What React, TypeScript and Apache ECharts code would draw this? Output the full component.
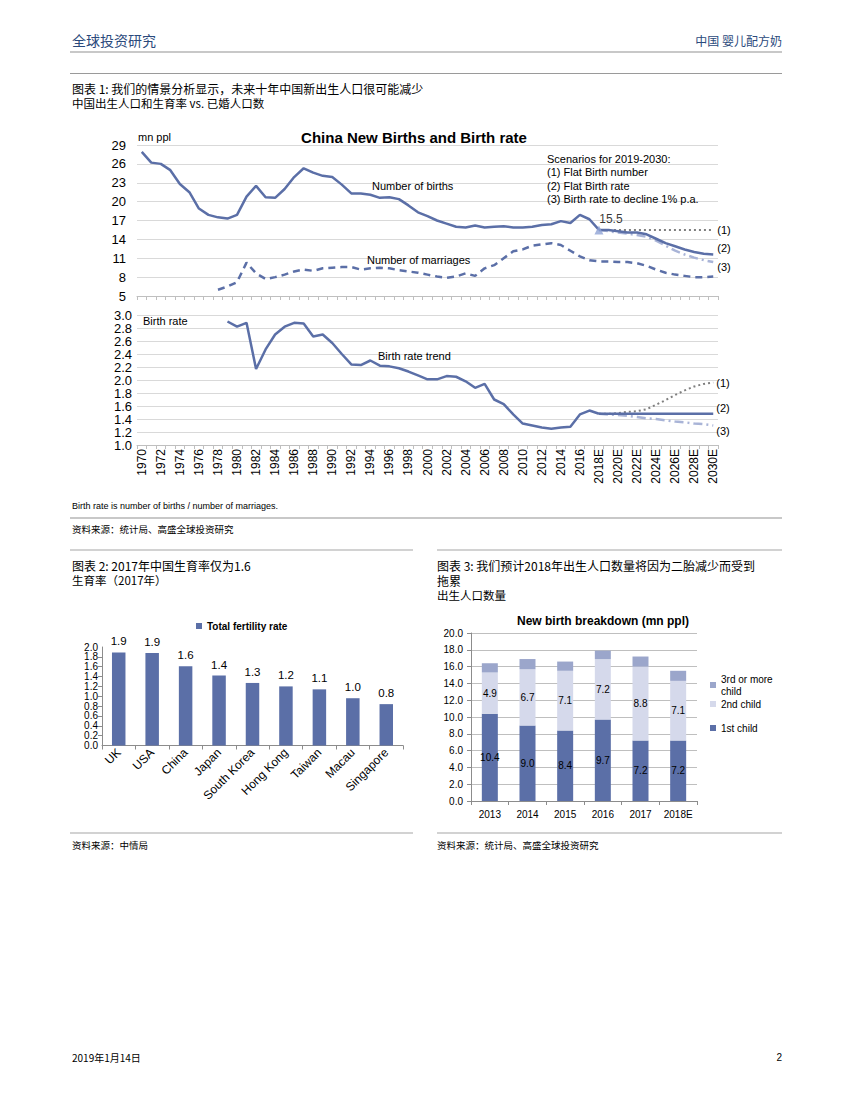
import { useEffect, useRef } from "react";
import * as echarts from "echarts";

// ---------- Chart 1 data ----------
const YEARS = [
  "1970", "1971", "1972", "1973", "1974", "1975", "1976", "1977", "1978", "1979",
  "1980", "1981", "1982", "1983", "1984", "1985", "1986", "1987", "1988", "1989",
  "1990", "1991", "1992", "1993", "1994", "1995", "1996", "1997", "1998", "1999",
  "2000", "2001", "2002", "2003", "2004", "2005", "2006", "2007", "2008", "2009",
  "2010", "2011", "2012", "2013", "2014", "2015", "2016", "2017", "2018E", "2019E",
  "2020E", "2021E", "2022E", "2023E", "2024E", "2025E", "2026E", "2027E", "2028E", "2029E",
  "2030E",
];

// Number of births (mn), 1970-2018
const BIRTHS_START = "1970";
const BIRTHS = [
  27.9, 26.2, 26.0, 25.0, 22.8, 21.5, 18.9, 17.9, 17.5, 17.3,
  17.9, 20.8, 22.5, 20.7, 20.6, 22.0, 23.9, 25.3, 24.6, 24.1,
  23.9, 22.7, 21.3, 21.3, 21.1, 20.6, 20.7, 20.4, 19.4, 18.3,
  17.7, 17.0, 16.5, 16.0, 15.9, 16.2, 15.9, 16.0, 16.1, 15.9,
  15.9, 16.0, 16.3, 16.4, 16.9, 16.6, 17.9, 17.2, 15.5,
];

// Number of marriages (mn), 1978-2030
const MARRIAGES_START = "1978";
const MARRIAGES = [
  6.0, 6.5,
  7.2, 10.3, 8.6, 7.7, 8.0, 8.4, 8.9, 9.2, 9.0, 9.4,
  9.5, 9.6, 9.6, 9.2, 9.4, 9.5, 9.4, 9.1, 8.9, 8.7,
  8.4, 8.1, 7.9, 8.1, 8.6, 8.2, 9.4, 9.9, 11.0, 12.1,
  12.4, 13.0, 13.2, 13.4, 13.1, 12.2, 11.3, 10.7, 10.5, 10.5,
  10.4, 10.4, 10.2, 9.8, 9.2, 8.7, 8.4, 8.2, 8.0, 8.0, 8.1,
];

// Scenarios, births 2018E-2030E
const SCEN_START = "2018E";
const BIRTHS_S1 = [15.5, 15.5, 15.5, 15.5, 15.5, 15.5, 15.5, 15.5, 15.5, 15.5, 15.5, 15.5, 15.5];
const BIRTHS_S2 = [15.5, 15.5, 15.3, 15.1, 15.1, 14.8, 14.1, 13.4, 12.9, 12.4, 12.0, 11.7, 11.6];
const BIRTHS_S3 = [15.5, 15.3, 15.1, 14.9, 14.7, 14.4, 13.8, 13.0, 12.2, 11.6, 11.1, 10.7, 10.4];

// Birth rate (births / marriages), 1979-2018
const RATE_START = "1979";
const RATE = [
  2.90,
  2.82, 2.88, 2.17, 2.47, 2.70, 2.82, 2.88, 2.87, 2.67, 2.70,
  2.57, 2.40, 2.24, 2.23, 2.30, 2.22, 2.21, 2.18, 2.13, 2.07,
  2.01, 2.01, 2.06, 2.05, 1.98, 1.88, 1.94, 1.70, 1.63, 1.47,
  1.33, 1.30, 1.27, 1.25, 1.27, 1.28, 1.47, 1.53, 1.48,
];
const RATE_S1 = [1.48, 1.48, 1.49, 1.51, 1.52, 1.55, 1.62, 1.69, 1.77, 1.84, 1.90, 1.94, 1.96];
const RATE_S2 = [1.48, 1.48, 1.48, 1.48, 1.48, 1.48, 1.48, 1.48, 1.48, 1.48, 1.48, 1.48, 1.48];
const RATE_S3 = [1.48, 1.47, 1.46, 1.45, 1.43, 1.41, 1.40, 1.38, 1.36, 1.35, 1.33, 1.32, 1.30];

// ---------- Chart 2 data ----------
const COUNTRIES = ["UK", "USA", "China", "Japan", "South Korea", "Hong Kong", "Taiwan", "Macau", "Singapore"];
const TFR = [1.89, 1.88, 1.61, 1.42, 1.27, 1.20, 1.14, 0.96, 0.84];
const TFR_MIN = 0;
const TFR_MAX = 2;
const TFR_STEP = 0.2;

// ---------- Chart 3 data ----------
const BREAK_YEARS = ["2013", "2014", "2015", "2016", "2017", "2018E"];
const FIRST_CHILD = [10.4, 9.0, 8.4, 9.7, 7.2, 7.2];
const SECOND_CHILD = [4.9, 6.7, 7.1, 7.2, 8.8, 7.1];
const THIRD_CHILD = [1.1, 1.2, 1.1, 1.0, 1.2, 1.2];

// ---------- styles ----------
const BLUE = "#5b6fa7";
const LIGHT = "#a9b4d7";
const GRAY_DOT = "#7f7f7f";
const EN = "'Liberation Sans', Arial, sans-serif";
const CN = "'Noto Sans CJK SC', 'Liberation Sans', sans-serif";
const HEAD = "#2b4a7c";

const pad = (start: string, arr: number[]) => {
  const s = YEARS.indexOf(start);
  return YEARS.map((_, i) => (i >= s && i - s < arr.length ? arr[i - s] : null));
};

const T = (x: number, y: number, text: string, size: number, o: any = {}) => ({
  type: "text",
  x,
  y,
  z: 10,
  style: {
    text,
    font: `${o.weight || "normal"} ${size}px ${o.family || CN}`,
    fill: o.fill || "#000",
    textAlign: o.align || "left",
    textVerticalAlign: "middle",
  },
});
// horizontal rule drawn as a thin filled rect
const R = (x1: number, y: number, x2: number, h: number, fill: string) => ({
  type: "rect",
  z: 10,
  shape: { x: x1, y: y - h / 2, width: x2 - x1, height: h },
  style: { fill },
});

const fmt1 = (v: number) => Number(v).toFixed(1);

export default function App() {
  const ref = useRef<HTMLDivElement>(null);
  useEffect(() => {
    const chart = echarts.init(ref.current!, null, { renderer: "svg" });
    const yearAxisBase = {
      type: "category",
      data: YEARS,
      boundaryGap: true,
      axisLine: { lineStyle: { color: "#bfbfbf" } },
      axisTick: { show: true, interval: 0, length: 4, lineStyle: { color: "#bfbfbf" } },
    };
    const smallLegend = (name: string, left: number, top: number, extra: any = {}) => ({
      data: [name],
      left,
      top,
      padding: 0,
      icon: "rect",
      itemWidth: 6,
      itemHeight: 6,
      textStyle: { fontSize: 10, color: "#000", fontFamily: EN, ...extra },
    });
    const tfrLabel = { fontSize: 10, lineHeight: 8, color: "#000", margin: 4, fontFamily: EN, formatter: fmt1 };
    const option: any = {
      animation: false,
      backgroundColor: "#fff",
      textStyle: { fontFamily: EN },
      grid: [
        { left: 137, top: 145, width: 581, height: 151 },
        { left: 137, top: 315, width: 581, height: 130 },
        { left: 102, top: 647, width: 301, height: 98.5 },
        { left: 471, top: 633, width: 226, height: 168 },
      ],
      xAxis: [
        { ...yearAxisBase, gridIndex: 0, axisLabel: { show: false } },
        {
          ...yearAxisBase,
          gridIndex: 1,
          axisLabel: { show: true, interval: 1, rotate: 90, fontSize: 12, color: "#000", margin: 4, fontFamily: EN },
        },
        {
          gridIndex: 2,
          type: "category",
          data: COUNTRIES,
          axisLine: { lineStyle: { color: "#8c8c8c" } },
          axisTick: { show: true, interval: 0, length: 4, lineStyle: { color: "#8c8c8c" } },
          axisLabel: { interval: 0, rotate: 45, fontSize: 12, color: "#000", margin: 5, fontFamily: EN },
        },
        {
          gridIndex: 3,
          type: "category",
          data: BREAK_YEARS,
          axisLine: { lineStyle: { color: "#8c8c8c" } },
          axisTick: { show: true, interval: 0, length: 4, lineStyle: { color: "#8c8c8c" } },
          axisLabel: { interval: 0, fontSize: 10, color: "#000", margin: 8, fontFamily: EN },
        },
      ],
      yAxis: [
        {
          gridIndex: 0,
          type: "value",
          min: 5,
          max: 29,
          interval: 3,
          axisLine: { show: false },
          axisTick: { show: false },
          splitLine: { lineStyle: { color: "#d9d9d9" } },
          axisLabel: { fontSize: 13, color: "#000", margin: 11, fontFamily: EN },
        },
        {
          gridIndex: 1,
          type: "value",
          min: 1,
          max: 3,
          interval: 0.2,
          axisLine: { show: false },
          axisTick: { show: false },
          splitLine: { lineStyle: { color: "#d9d9d9" } },
          axisLabel: { fontSize: 13, lineHeight: 13, color: "#000", margin: 5, fontFamily: EN, formatter: fmt1 },
        },
        // chart 2 main axis: inner labels 0.2 ... 1.8
        {
          gridIndex: 2,
          type: "value",
          min: TFR_MIN,
          max: TFR_MAX,
          interval: TFR_STEP,
          axisLine: { show: true, lineStyle: { color: "#8c8c8c" } },
          axisTick: { show: true, length: 4, lineStyle: { color: "#8c8c8c" } },
          splitLine: { show: false },
          axisLabel: { ...tfrLabel, showMinLabel: false, showMaxLabel: false },
        },
        {
          gridIndex: 3,
          type: "value",
          min: 0,
          max: 20,
          interval: 2,
          axisLine: { show: true, lineStyle: { color: "#8c8c8c" } },
          axisTick: { show: true, length: 4, lineStyle: { color: "#8c8c8c" } },
          splitLine: { lineStyle: { color: "#bfbfbf" } },
          axisLabel: { fontSize: 10, color: "#000", margin: 8, fontFamily: EN, formatter: fmt1 },
        },
        // chart 2 companion axis: end labels 0.0 and 2.0 on the same scale
        {
          gridIndex: 2,
          type: "value",
          position: "left",
          min: TFR_MIN,
          max: TFR_MAX,
          interval: TFR_MAX - TFR_MIN,
          axisLine: { show: false },
          axisTick: { show: false },
          splitLine: { show: false },
          axisLabel: tfrLabel,
        },
      ],
      legend: [
        {
          data: ["Total fertility rate"],
          left: 196,
          top: 621,
          padding: 0,
          icon: "rect",
          itemWidth: 6,
          itemHeight: 6,
          textStyle: { fontSize: 10, fontWeight: "bold", color: "#000", fontFamily: EN },
        },
        smallLegend("3rd or more child", 710, 673, { width: 56, overflow: "break", lineHeight: 12 }),
        smallLegend("2nd child", 710, 699),
        smallLegend("1st child", 710, 723),
      ],
      series: [
        // ---- top panel: births & marriages ----
        {
          type: "line",
          name: "Number of marriages",
          xAxisIndex: 0,
          yAxisIndex: 0,
          data: pad(MARRIAGES_START, MARRIAGES),
          symbol: "none",
          lineStyle: { color: BLUE, width: 2.5, type: [7, 5] },
        },
        {
          type: "line",
          name: "(1) Flat Birth number",
          xAxisIndex: 0,
          yAxisIndex: 0,
          data: pad(SCEN_START, BIRTHS_S1),
          symbol: "none",
          lineStyle: { color: GRAY_DOT, width: 2, type: [2, 3] },
          endLabel: { show: true, formatter: "(1)", distance: 4, fontSize: 11, color: "#000", fontFamily: EN },
        },
        {
          type: "line",
          name: "(3) Birth rate to decline 1% p.a.",
          xAxisIndex: 0,
          yAxisIndex: 0,
          data: pad(SCEN_START, BIRTHS_S3),
          symbol: "none",
          lineStyle: { color: LIGHT, width: 2.5, type: [9, 4, 2, 4] },
          endLabel: { show: true, formatter: "(3)", distance: 4, offset: [0, 5], fontSize: 11, color: "#000", fontFamily: EN },
        },
        {
          type: "line",
          name: "(2) Flat Birth rate",
          xAxisIndex: 0,
          yAxisIndex: 0,
          data: pad(SCEN_START, BIRTHS_S2),
          symbol: "none",
          lineStyle: { color: BLUE, width: 2.5 },
          endLabel: { show: true, formatter: "(2)", distance: 4, offset: [0, -6], fontSize: 11, color: "#000", fontFamily: EN },
        },
        {
          type: "line",
          name: "Number of births",
          xAxisIndex: 0,
          yAxisIndex: 0,
          data: pad(BIRTHS_START, BIRTHS),
          symbol: "none",
          lineStyle: { color: BLUE, width: 2.5 },
        },
        {
          type: "scatter",
          name: "2018E births",
          xAxisIndex: 0,
          yAxisIndex: 0,
          data: [[SCEN_START, BIRTHS[BIRTHS.length - 1]]],
          symbol: "triangle",
          symbolSize: 9,
          itemStyle: { color: "#8fa2d4" },
          label: {
            show: true,
            position: "top",
            offset: [12, 5],
            fontSize: 12,
            color: "#000",
            fontFamily: EN,
            formatter: (p: any) => fmt1(p.value[1]),
          },
          z: 5,
        },
        // ---- bottom panel: birth rate ----
        {
          type: "line",
          name: "Rate (1)",
          xAxisIndex: 1,
          yAxisIndex: 1,
          data: pad(SCEN_START, RATE_S1),
          symbol: "none",
          lineStyle: { color: GRAY_DOT, width: 2, type: [2, 3] },
          endLabel: { show: true, formatter: "(1)", distance: 3, fontSize: 11, color: "#000", fontFamily: EN },
        },
        {
          type: "line",
          name: "Rate (3)",
          xAxisIndex: 1,
          yAxisIndex: 1,
          data: pad(SCEN_START, RATE_S3),
          symbol: "none",
          lineStyle: { color: LIGHT, width: 2.5, type: [9, 4, 2, 4] },
          endLabel: { show: true, formatter: "(3)", distance: 3, offset: [0, 5], fontSize: 11, color: "#000", fontFamily: EN },
        },
        {
          type: "line",
          name: "Rate (2)",
          xAxisIndex: 1,
          yAxisIndex: 1,
          data: pad(SCEN_START, RATE_S2),
          symbol: "none",
          lineStyle: { color: BLUE, width: 2.5 },
          endLabel: { show: true, formatter: "(2)", distance: 3, offset: [0, -6], fontSize: 11, color: "#000", fontFamily: EN },
        },
        {
          type: "line",
          name: "Birth rate",
          xAxisIndex: 1,
          yAxisIndex: 1,
          data: pad(RATE_START, RATE),
          symbol: "none",
          lineStyle: { color: BLUE, width: 2.5 },
        },
        // ---- chart 2 ----
        {
          type: "bar",
          name: "Total fertility rate",
          xAxisIndex: 2,
          yAxisIndex: 2,
          data: TFR,
          barWidth: 13.5,
          itemStyle: { color: BLUE },
          label: {
            show: true,
            position: "top",
            distance: 5,
            fontSize: 11.5,
            color: "#000",
            fontFamily: EN,
            formatter: (p: any) => fmt1(p.value),
          },
        },
        // ---- chart 3 ----
        {
          type: "bar",
          name: "1st child",
          xAxisIndex: 3,
          yAxisIndex: 3,
          stack: "births",
          data: FIRST_CHILD,
          barWidth: 16,
          itemStyle: { color: BLUE },
          label: { show: true, position: "inside", fontSize: 10, color: "#000", fontFamily: EN, formatter: (p: any) => fmt1(p.value) },
        },
        {
          type: "bar",
          name: "2nd child",
          xAxisIndex: 3,
          yAxisIndex: 3,
          stack: "births",
          data: SECOND_CHILD,
          barWidth: 16,
          itemStyle: { color: "#d5d9eb" },
          label: { show: true, position: "inside", fontSize: 10, color: "#000", fontFamily: EN, formatter: (p: any) => fmt1(p.value) },
        },
        {
          type: "bar",
          name: "3rd or more child",
          xAxisIndex: 3,
          yAxisIndex: 3,
          stack: "births",
          data: THIRD_CHILD,
          barWidth: 16,
          itemStyle: { color: "#9ba6cb" },
        },
      ],
      graphic: [
        T(72, 40, "全球投资研究", 14, { fill: HEAD }),
        T(782, 40, "中国 婴儿配方奶", 12, { fill: HEAD, align: "right" }),
        R(70, 52, 782, 2, "#c8c8c8"),
        R(70, 73.5, 782, 1, "#9a9a9a"),
        T(72, 88, "图表 1: 我们的情景分析显示，未来十年中国新出生人口很可能减少", 12),
        T(72, 103, "中国出生人口和生育率 vs. 已婚人口数", 11.5),
        T(138, 137, "mn ppl", 11, { family: EN }),
        T(414, 137, "China New Births and Birth rate", 15, { family: EN, weight: "bold", align: "center" }),
        T(547, 159, "Scenarios for 2019-2030:", 11, { family: EN }),
        T(547, 172.3, "(1) Flat Birth number", 11, { family: EN }),
        T(547, 185.5, "(2) Flat Birth rate", 11, { family: EN }),
        T(547, 198.7, "(3) Birth rate to decline 1% p.a.", 11, { family: EN }),
        T(372, 186, "Number of births", 11, { family: EN }),
        T(367, 260, "Number of marriages", 11, { family: EN }),
        T(143, 321, "Birth rate", 11, { family: EN }),
        T(378, 356, "Birth rate trend", 11, { family: EN }),
        T(72, 506, "Birth rate is number of births / number of marriages.", 9, { family: EN }),
        R(70, 518, 782, 2, "#c8c8c8"),
        T(72, 529, "资料来源：统计局、高盛全球投资研究", 9.5),
        R(70, 550, 413, 1, "#a6a6a6"),
        R(437, 550, 782, 1, "#a6a6a6"),
        T(72, 565, "图表 2: 2017年中国生育率仅为1.6", 12),
        T(72, 580, "生育率（2017年）", 11.5),
        T(437, 565, "图表 3: 我们预计2018年出生人口数量将因为二胎减少而受到", 12),
        T(437, 580, "拖累", 12),
        T(437, 595, "出生人口数量", 11.5),
        T(603, 621, "New birth breakdown (mn ppl)", 12, { family: EN, weight: "bold", align: "center" }),
        R(70, 833, 413, 1, "#a6a6a6"),
        R(437, 833, 782, 1, "#a6a6a6"),
        T(72, 845, "资料来源：中情局", 9.5),
        T(437, 845, "资料来源：统计局、高盛全球投资研究", 9.5),
        T(72, 1057, "2019年1月14日", 10),
        T(782, 1057, "2", 10, { align: "right", family: EN }),
      ],
    };
    chart.setOption(option);
    return () => chart.dispose();
  }, []);
  return (
    <div
      ref={ref}
      style={{ position: "absolute", left: 0, top: 0, width: 850, height: 1100, background: "#fff" }}
    />
  );
}
